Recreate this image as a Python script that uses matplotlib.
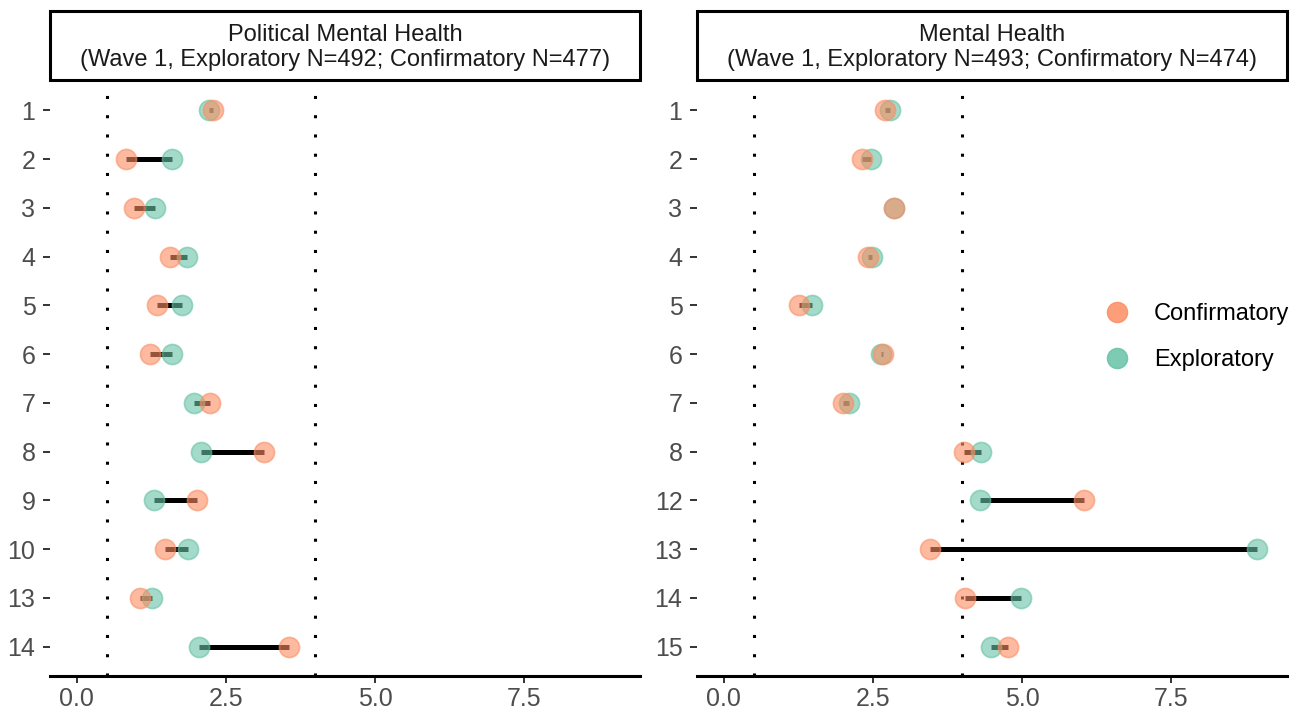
import matplotlib
matplotlib.use("Agg")
import matplotlib.pyplot as plt
from matplotlib.patches import Rectangle
from matplotlib.lines import Line2D

plt.rcParams['font.family'] = ['Liberation Sans', 'DejaVu Sans']

# ---- data ----
left_title = "Political Mental Health\n(Wave 1, Exploratory N=492; Confirmatory N=477)"
left_items = ['1', '2', '3', '4', '5', '6', '7', '8', '9', '10', '13', '14']
left_exploratory = [2.21, 1.59, 1.31, 1.85, 1.76, 1.60, 1.97, 2.08, 1.30, 1.86, 1.26, 2.05]
left_confirmatory = [2.29, 0.82, 0.95, 1.56, 1.35, 1.23, 2.24, 3.14, 2.01, 1.47, 1.06, 3.56]

right_title = "Mental Health\n(Wave 1, Exploratory N=493; Confirmatory N=474)"
right_items = ['1', '2', '3', '4', '5', '6', '7', '8', '12', '13', '14', '15']
right_exploratory = [2.78, 2.47, 2.85, 2.49, 1.48, 2.64, 2.10, 4.31, 4.29, 8.93, 4.98, 4.48]
right_confirmatory = [2.70, 2.31, 2.85, 2.42, 1.26, 2.67, 2.00, 4.02, 6.04, 3.46, 4.05, 4.76]

ref_lines = [0.5, 4.0]
x_ticks = [0.0, 2.5, 5.0, 7.5]
x_ticklabels = ['0.0', '2.5', '5.0', '7.5']

col_conf = '#FC8D62'
col_expl = '#66C2A5'

W, H = 1307, 715
fig = plt.figure(figsize=(W / 100, H / 100), dpi=100)

panel_top, panel_bot = 81, 676
axes_px = [(50, 640), (697, 1287)]

panels = [
    (left_title, left_items, left_exploratory, left_confirmatory),
    (right_title, right_items, right_exploratory, right_confirmatory),
]

for (x0, x1), (title, items, expl, conf) in zip(axes_px, panels):
    ax = fig.add_axes([x0 / W, 1 - panel_bot / H, (x1 - x0) / W, (panel_bot - panel_top) / H])
    ypos = list(range(len(items)))
    ax.hlines(ypos, [min(a, b) for a, b in zip(expl, conf)],
              [max(a, b) for a, b in zip(expl, conf)],
              color='black', lw=3.6, zorder=2)
    for v in ref_lines:
        ax.axvline(v, color='black', lw=2.2, linestyle=(0, (1, 5.3)), zorder=1)
    ax.scatter(expl, ypos, s=210, color=col_expl, alpha=0.6, edgecolors=col_expl,
               linewidths=1.2, zorder=3)
    ax.scatter(conf, ypos, s=210, color=col_conf, alpha=0.6, edgecolors=col_conf,
               linewidths=1.2, zorder=4)
    ax.set_xlim(-0.45, 9.44)
    ax.set_ylim(len(items) - 1 + 0.6, -0.6)
    ax.set_yticks(ypos)
    ax.set_yticklabels(items)
    ax.set_xticks(x_ticks)
    ax.set_xticklabels(x_ticklabels)
    for s in ['top', 'right', 'left']:
        ax.spines[s].set_visible(False)
    ax.spines['bottom'].set_linewidth(2.2)
    ax.spines['bottom'].set_color('black')
    ax.tick_params(axis='y', length=5, width=1.4, color='#333333', pad=5.5,
                   labelsize=18, labelcolor='#4D4D4D')
    ax.tick_params(axis='x', length=5, width=1.4, color='#333333', pad=3,
                   labelsize=18, labelcolor='#4D4D4D')
    ph = panel_bot - panel_top
    sb = (panel_bot - 80) / ph
    st = (panel_bot - 11) / ph
    ax.add_patch(Rectangle((0, sb), 1, st - sb, transform=ax.transAxes, clip_on=False,
                           facecolor='white', edgecolor='black', lw=2.2, zorder=5))
    ax.text(0.5, (sb + st) / 2 - 0.003, title, transform=ax.transAxes, ha='center', va='center',
            fontsize=17, color='#1A1A1A', linespacing=1.2, zorder=6)

handles = [
    Line2D([], [], marker='o', linestyle='none', markersize=14.5, color=col_conf, alpha=0.85),
    Line2D([], [], marker='o', linestyle='none', markersize=14.5, color=col_expl, alpha=0.85),
]
fig.legend(handles, ['Confirmatory', 'Exploratory'], loc='center left',
           bbox_to_anchor=(1106 / W, 1 - 337 / H), bbox_transform=fig.transFigure,
           frameon=False, fontsize=17, handlelength=0.9, handletextpad=1.14,
           labelspacing=1.0, borderpad=0, borderaxespad=0)

fig.savefig('out.png', dpi=100)
